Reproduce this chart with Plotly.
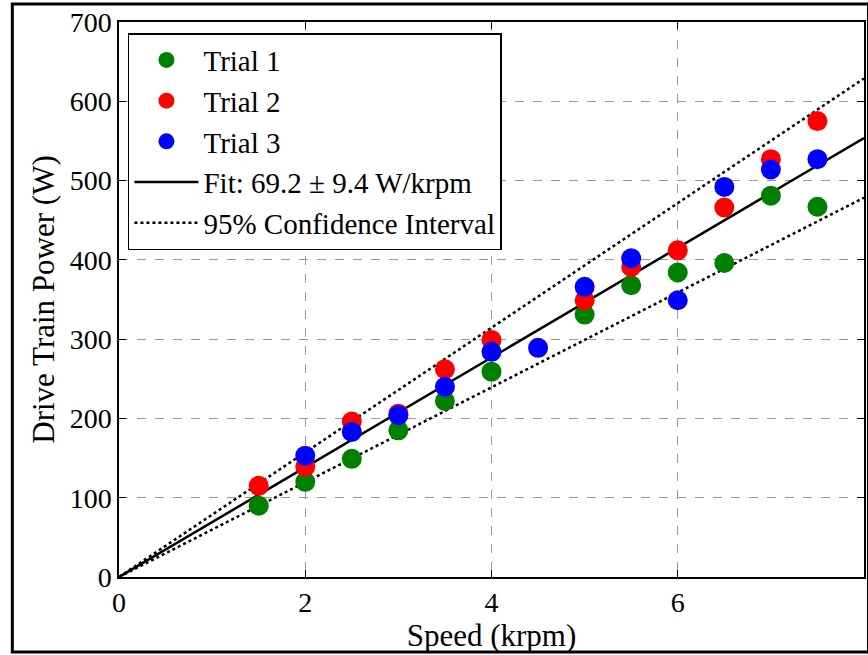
import plotly.graph_objects as go

# ---- data ----
speed_t1 = [1.5, 2, 2.5, 3, 3.5, 4, 5, 5.5, 6, 6.5, 7, 7.5]
power_t1 = [90, 120, 149, 185, 222, 259, 331, 368, 384, 396, 481, 467]

speed_t2 = [1.5, 2, 2.5, 3, 3.5, 4, 5, 5.5, 6, 6.5, 7, 7.5]
power_t2 = [115, 139, 196, 206, 262, 299, 349, 391, 412, 466, 527, 575]

speed_t3 = [2, 2.5, 3, 3.5, 4, 4.5, 5, 5.5, 6, 6.5, 7, 7.5]
power_t3 = [153, 183, 204, 240, 284, 289, 366, 402, 349, 492, 514, 527]

fit_slope = 69.2      # W/krpm
ci_half = 9.4         # W/krpm
fit_x = [0, 8]

x_ticks = [0, 2, 4, 6, 8]
y_ticks = [0, 100, 200, 300, 400, 500, 600, 700]

FONT = "Liberation Serif"

fig = go.Figure()

fig.add_trace(go.Scatter(x=fit_x, y=[fit_slope * v for v in fit_x], mode="lines",
                         line=dict(color="black", width=2.5),
                         name="Fit: 69.2 ± 9.4 W/krpm", legendrank=4))
fig.add_trace(go.Scatter(x=fit_x, y=[(fit_slope + ci_half) * v for v in fit_x], mode="lines",
                         line=dict(color="black", width=2.5, dash="dot"),
                         name="95% Confidence Interval", legendrank=5))
fig.add_trace(go.Scatter(x=fit_x, y=[(fit_slope - ci_half) * v for v in fit_x], mode="lines",
                         line=dict(color="black", width=2.5, dash="dot"),
                         name="95% Confidence Interval", showlegend=False))

for xs, ys, col, nm, rk in [(speed_t1, power_t1, "#008000", "Trial 1", 1),
                            (speed_t2, power_t2, "#ff0000", "Trial 2", 2),
                            (speed_t3, power_t3, "#0000ff", "Trial 3", 3)]:
    fig.add_trace(go.Scatter(x=xs, y=ys, mode="markers", name=nm, legendrank=rk,
                             marker=dict(color=col, size=20, symbol="circle",
                                         line=dict(width=0))))

axis_common = dict(
    showline=True, linecolor="black", linewidth=1.5, mirror="allticks",
    ticks="inside", ticklen=7, tickwidth=1.2, tickcolor="black",
    showgrid=True, gridcolor="#9a9a9a", gridwidth=1, griddash="dash",
    zeroline=False, tickfont=dict(family=FONT, size=28, color="black"),
)

fig.update_xaxes(range=[0, 8], tickvals=x_ticks, ticktext=[str(v) for v in x_ticks],
                 title=dict(text="Speed (krpm)", font=dict(family=FONT, size=31, color="black"),
                            standoff=2),
                 **axis_common)
fig.update_yaxes(range=[0, 700], tickvals=y_ticks, ticktext=[str(v) for v in y_ticks],
                 title=dict(text="Drive Train Power (W)", font=dict(family=FONT, size=31, color="black"),
                            standoff=6),
                 **axis_common)

fig.update_layout(
    width=868, height=655,
    margin=dict(l=119, r=2, t=22, b=78),
    plot_bgcolor="white", paper_bgcolor="white",
    font=dict(family=FONT, color="black"),
    legend=dict(x=0.012, y=0.98, xanchor="left", yanchor="top",
                bgcolor="white", bordercolor="black", borderwidth=1.5,
                font=dict(family=FONT, size=29, color="black"),
                tracegroupgap=0, itemsizing="trace", itemwidth=64),
    shapes=[dict(type="rect", xref="paper", yref="paper",
                 x0=-0.1432, x1=1.006, y0=-0.1351, y1=1.0324,
                 line=dict(color="black", width=3), layer="above")],
)

fig.write_html("out.html")
